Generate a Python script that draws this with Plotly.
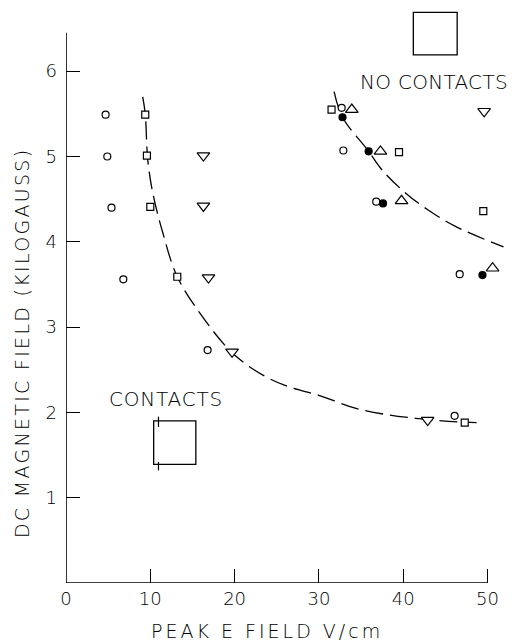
import plotly.graph_objects as go

# ---- data ----
open_circle_x = [4.7, 4.9, 5.4, 6.8, 16.8, 32.7, 32.9, 36.8, 46.7, 46.1]
open_circle_y = [5.49, 5.00, 4.40, 3.56, 2.73, 5.57, 5.07, 4.47, 3.62, 1.96]

open_square_x = [9.4, 9.6, 10.0, 13.2, 47.3, 31.5, 39.5, 49.5]
open_square_y = [5.49, 5.01, 4.41, 3.59, 1.88, 5.55, 5.05, 4.36]

down_tri_x = [16.3, 16.3, 16.9, 19.7, 42.9, 49.6]
down_tri_y = [5.01, 4.42, 3.58, 2.71, 1.91, 5.53]

up_tri_x = [33.9, 37.3, 39.8, 50.6]
up_tri_y = [5.55, 5.06, 4.48, 3.69]

filled_circle_x = [32.8, 35.9, 37.6, 49.4]
filled_circle_y = [5.46, 5.06, 4.45, 3.61]

# dashed boundary curves
contact_curve_x = [9.1, 9.4, 9.7, 10.3, 11.5, 13.2, 16.2, 19.8, 23.3, 26.4, 30.0, 34.3, 38.3, 41.5, 44.6, 48.7]
contact_curve_y = [5.70, 5.50, 4.96, 4.57, 4.10, 3.59, 3.12, 2.69, 2.44, 2.30, 2.20, 2.05, 1.97, 1.93, 1.90, 1.88]

nocontact_curve_x = [31.8, 32.8, 35.9, 37.5, 40.3, 43.0, 46.2, 51.9]
nocontact_curve_y = [5.76, 5.46, 5.06, 4.84, 4.57, 4.37, 4.18, 3.94]

x_ticks = [0, 10, 20, 30, 40, 50]
y_ticks = [1, 2, 3, 4, 5, 6]

x_title = "PEAK E FIELD V/cm"
y_title = "DC MAGNETIC FIELD (KILOGAUSS)"

FONT = "DejaVu Sans"
WEIGHT = 200
INK = "#000000"

fig = go.Figure()

dash = "18px,7px"
fig.add_trace(go.Scatter(x=contact_curve_x, y=contact_curve_y, mode="lines",
                         line=dict(color=INK, width=1.3, dash=dash, shape="spline"),
                         hoverinfo="skip"))
fig.add_trace(go.Scatter(x=nocontact_curve_x, y=nocontact_curve_y, mode="lines",
                         line=dict(color=INK, width=1.3, dash=dash, shape="spline"),
                         hoverinfo="skip"))

def pts(x, y, symbol, size, filled=False):
    fig.add_trace(go.Scatter(
        x=x, y=y, mode="markers", cliponaxis=False,
        marker=dict(symbol=symbol, size=size,
                    color=INK if filled else "white",
                    line=dict(color=INK, width=1.2))))

pts(open_circle_x, open_circle_y, "circle", 7)
pts(open_square_x, open_square_y, "square", 7)
pts(down_tri_x, down_tri_y, "triangle-down", 11)
pts(up_tri_x, up_tri_y, "triangle-up", 11)
pts(filled_circle_x, filled_circle_y, "circle", 7, filled=True)

shapes = [
    # axis lines
    dict(type="line", x0=0, x1=50, y0=0, y1=0, xref="x", yref="y",
         line=dict(color=INK, width=1.6)),
    dict(type="line", x0=0, x1=0, y0=0, y1=6.45, xref="x", yref="y",
         line=dict(color=INK, width=1.6)),
    # NO CONTACTS key box
    dict(type="rect", x0=41.2, x1=46.4, y0=6.19, y1=6.69, xref="x", yref="y",
         line=dict(color=INK, width=1.3)),
    # CONTACTS key box
    dict(type="rect", x0=10.4, x1=15.4, y0=1.39, y1=1.90, xref="x", yref="y",
         line=dict(color=INK, width=1.3)),
    dict(type="line", x0=10.97, x1=10.97, y0=1.83, y1=1.95, xref="x", yref="y",
         line=dict(color=INK, width=1.2)),
    dict(type="line", x0=10.97, x1=10.97, y0=1.32, y1=1.42, xref="x", yref="y",
         line=dict(color=INK, width=1.2)),
]

def f(size):
    return dict(family=FONT, size=size, color=INK, weight=WEIGHT)

def spaced(text, px):
    return f'<span style="letter-spacing:{px}px">{text}</span>'

annotations = [
    dict(text=spaced("NO CONTACTS", 0.3), x=43.7, y=5.87, xref="x", yref="y", showarrow=False,
         xanchor="center", yanchor="middle", font=f(20)),
    dict(text=spaced("CONTACTS", 0.8), x=11.9, y=2.16, xref="x", yref="y", showarrow=False,
         xanchor="center", yanchor="middle", font=f(20)),
    dict(text=spaced(x_title, 3), x=23.9, y=-0.083, xref="x", yref="paper",
         xanchor="center", yanchor="middle", showarrow=False, font=f(19)),
    dict(text=spaced(y_title, 2.3), x=-0.100, y=2.81, xref="paper", yref="y",
         xanchor="center", yanchor="middle",
         textangle=-90, showarrow=False, font=f(19)),
]

fig.update_layout(
    width=512, height=641,
    margin=dict(l=66, r=4, t=2, b=58),
    paper_bgcolor="white", plot_bgcolor="white",
    showlegend=False,
    shapes=shapes, annotations=annotations,
    xaxis=dict(range=[0, 52.43], tickvals=x_ticks, ticktext=[str(v) for v in x_ticks],
               ticks="inside", ticklen=14, tickwidth=1.3, tickcolor=INK,
               showline=False, showgrid=False, zeroline=False,
               ticklabelstandoff=3,
               tickfont=f(18)),
    yaxis=dict(range=[0, 6.811], tickvals=y_ticks, ticktext=[str(v) for v in y_ticks],
               ticks="inside", ticklen=14, tickwidth=1.3, tickcolor=INK,
               showline=False, showgrid=False, zeroline=False,
               ticklabelstandoff=8,
               tickfont=f(18)),
)

fig.write_html("out.html")
